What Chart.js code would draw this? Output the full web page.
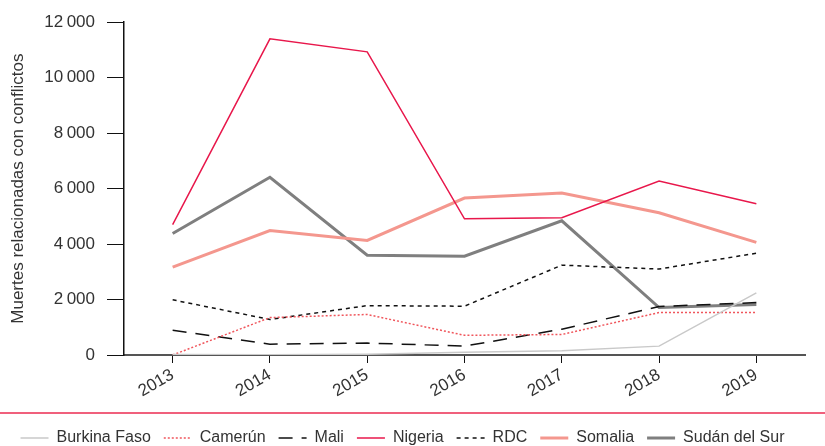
<!DOCTYPE html>
<html lang="es">
<head>
<meta charset="utf-8">
<title>Muertes relacionadas con conflictos</title>
<script src="https://cdn.jsdelivr.net/npm/chart.js@4"></script>
<style>
    body { margin: 0; background: #fff; }
    #wrap { width: 825px; height: 446px; position: relative; }
</style>
</head>
<body>
<div id="wrap"><canvas id="chart"></canvas></div>
<script>
// Data
const years = ['2013', '2014', '2015', '2016', '2017', '2018', '2019'];
const yTicks = [0, 2000, 4000, 6000, 8000, 10000, 12000];

const burkinaFaso = [20, 10, 30, 100, 150, 320, 2240];
const camerun = [0, 1350, 1460, 710, 740, 1530, 1530];
const mali = [890, 390, 430, 320, 930, 1750, 1890];
const nigeria = [4700, 11400, 10930, 4910, 4950, 6270, 5450];
const rdc = [1990, 1280, 1780, 1760, 3240, 3100, 3670];
const somalia = [3170, 4490, 4130, 5660, 5840, 5130, 4060];
const sudanDelSur = [4380, 6410, 3600, 3560, 4840, 1710, 1820];

const FONT = 'Liberation Sans';
const TEXT = '#333333';

function fmt(v) {
    // thousands separated by a thin space
    return String(v).replace(/\B(?=(\d{3})+(?!\d))/g, '\u2009');
}

// red rule above the legend
const separator = {
    id: 'separator',
    afterDraw(chart) {
        const ctx = chart.ctx;
        const y = chart.legend.top - 4;
        ctx.save();
        ctx.strokeStyle = '#f0607c';
        ctx.lineWidth = 2;
        ctx.beginPath();
        ctx.moveTo(0, y);
        ctx.lineTo(chart.width, y);
        ctx.stroke();
        ctx.restore();
    }
};

const ctx = document.getElementById('chart').getContext('2d');
new Chart(ctx, {
    type: 'line',
    data: {
        labels: years,
        datasets: [
            { label: 'Burkina Faso', data: burkinaFaso, borderColor: '#c9c9c9', borderWidth: 1.5 },
            { label: 'Camerún', data: camerun, borderColor: '#f0565c', borderWidth: 1.5, borderDash: [2, 2] },
            { label: 'Mali', data: mali, borderColor: '#111111', borderWidth: 1.5, borderDash: [14, 9] },
            { label: 'Nigeria', data: nigeria, borderColor: '#e8174b', borderWidth: 1.5 },
            { label: 'RDC', data: rdc, borderColor: '#111111', borderWidth: 1.5, borderDash: [4, 4] },
            { label: 'Somalia', data: somalia, borderColor: '#f4978e', borderWidth: 3 },
            { label: 'Sudán del Sur', data: sudanDelSur, borderColor: '#7f7f7f', borderWidth: 3 }
        ]
    },
    options: {
        responsive: true,
        maintainAspectRatio: false,
        animation: false,
        layout: { padding: { top: 8, right: 20, left: 0, bottom: -10 } },
        elements: {
            point: { radius: 0, hoverRadius: 0 },
            line: { tension: 0, fill: false }
        },
        plugins: {
            tooltip: { enabled: false },
            legend: {
                position: 'bottom',
                labels: {
                    usePointStyle: true,
                    pointStyle: 'line',
                    pointStyleWidth: 28,
                    padding: 13,
                    color: TEXT,
                    font: { family: FONT, size: 16 },
                    generateLabels(chart) {
                        return chart.data.datasets.map((ds, i) => ({
                            text: ds.label,
                            datasetIndex: i,
                            strokeStyle: ds.borderColor,
                            fillStyle: ds.borderColor,
                            lineWidth: ds.borderWidth,
                            lineDash: ds.borderDash || [],
                            pointStyle: 'line',
                            fontColor: TEXT,
                            hidden: false
                        }));
                    }
                }
            }
        },
        scales: {
            x: {
                offset: true,
                grid: {
                    display: true,
                    drawOnChartArea: false,
                    tickLength: 8,
                    tickColor: '#111111',
                    offset: false
                },
                border: { color: '#555555', width: 2 },
                ticks: {
                    color: TEXT,
                    font: { family: FONT, size: 17 },
                    maxRotation: 30,
                    minRotation: 30,
                    padding: 2
                },
                afterFit(scale) { scale.height = 62; }
            },
            y: {
                min: 0,
                max: 12000,
                afterBuildTicks(scale) {
                    scale.ticks = yTicks.map(v => ({ value: v }));
                },
                grid: {
                    display: true,
                    drawOnChartArea: false,
                    tickLength: 17,
                    tickColor: '#111111'
                },
                border: { color: '#111111', width: 1.5 },
                ticks: {
                    color: TEXT,
                    font: { family: FONT, size: 17 },
                    padding: 12,
                    callback: v => fmt(v)
                },
                title: {
                    display: true,
                    text: 'Muertes relacionadas con conflictos',
                    color: TEXT,
                    font: { family: FONT, size: 17 },
                    padding: { top: 8, bottom: 4 }
                },
                afterFit(scale) { scale.width = 124; }
            }
        }
    },
    plugins: [separator]
});
</script>
</body>
</html>
